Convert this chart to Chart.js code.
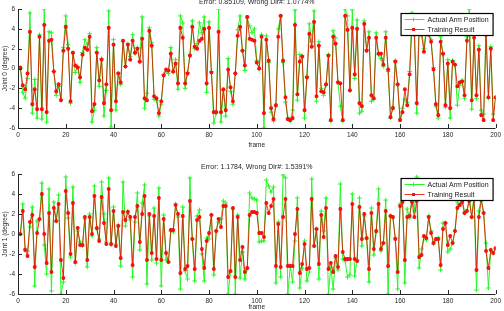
<!DOCTYPE html>
<html>
<head>
<meta charset="utf-8">
<script src="https://cdn.jsdelivr.net/npm/chart.js@4.4.1/dist/chart.umd.min.js"></script>
<style>
  html, body { margin: 0; padding: 0; background: #fff; }
  #wrap { position: relative; width: 504px; height: 311px; }
  #c0 { position: absolute; left: 0; top: 0; }
  #c1 { position: absolute; left: 0; top: 155px; }
</style>
</head>
<body>
<div id="wrap">
  <canvas id="c0" width="504" height="155"></canvas>
  <canvas id="c1" width="504" height="156"></canvas>
</div>
<script>
// values (frame 0..200)
const joint0Actual = [0.1,0.0,-2.4,-3.0,-1.0,5.6,-4.5,-1.1,-5.0,3.4,-5.1,6.0,-5.4,3.7,3.6,-0.3,-2.7,-1.8,-3.1,2.1,
  5.3,2.4,-3.5,1.5,-0.4,0.2,-1.4,1.6,2.9,2.4,3.5,-5.4,-4.2,2.1,-1.8,1.0,-4.8,-2.2,5.8,-5.9,
  2.9,-4.2,-0.5,-1.6,2.7,0.2,2.5,1.2,3.4,1.5,2.1,0.7,5.2,-4.0,-2.5,4.1,2.6,-3.1,-3.2,-4.8,
  -3.6,-0.6,-0.3,-0.5,2.1,-0.4,0.9,-2.1,5.3,4.6,-2.0,-0.4,1.4,4.8,2.0,2.5,4.6,3.6,5.2,-2.4,
  4.7,-0.3,-5.5,-4.5,6.0,-5.4,-2.2,-4.8,1.0,-2.3,-3.6,-0.5,3.9,5.3,1.8,-0.2,5.1,4.3,3.6,4.0,
  0.8,-0.1,3.4,-6.0,3.3,0.6,-4.4,-5.3,-3.8,4.0,5.3,0.6,-3.4,-5.0,-5.3,-4.2,5.9,-3.2,1.4,1.3,
  -5.0,-0.8,4.5,2.7,5.8,-3.3,2.7,-2.0,-2.7,-1.7,1.4,-5.3,3.8,3.1,-1.4,-3.8,-5.3,6.0,5.3,-2.2,
  5.9,-1.0,4.9,-4.5,-4.3,4.8,1.9,3.7,-3.3,-3.1,3.6,1.4,1.0,0.2,3.7,-0.3,-5.0,-3.9,0.8,-1.6,
  -5.1,-4.0,-3.1,-3.4,-0.3,5.6,4.0,-4.5,5.1,3.9,2.0,4.1,3.7,2.9,0.1,-3.8,-5.0,3.2,1.4,-3.9,
  0.9,-5.0,0.8,0.3,-3.7,-1.7,-1.2,-3.0,3.2,6.0,-4.1,3.5,-3.0,2.3,-4.2,-4.6,4.2,-3.0,2.2,-4.6,-3.0];
const joint0Training = [0.1,0.1,-1.7,-2.1,-0.5,3.7,-3.6,-2.1,-4.1,3.2,-4.1,4.4,-4.4,2.8,2.9,-0.3,-2.3,-1.6,-3.2,1.8,
  4.2,2.0,-3.3,1.6,0.3,0.1,-0.9,1.4,2.1,1.9,3.2,-4.3,-3.6,1.6,-1.2,0.9,-3.5,-1.6,4.1,-4.2,
  2.4,-3.3,-0.5,-1.4,2.8,0.2,2.4,0.9,2.8,1.6,2.0,0.7,3.0,-3.0,-3.2,3.8,2.3,-2.8,-3.0,-4.5,
  -3.3,-0.7,-0.1,-0.2,1.5,-0.3,0.5,-1.5,4.1,3.1,-1.5,-0.5,1.3,4.2,2.2,2.0,2.8,3.0,4.0,-1.5,
  4.1,-0.4,-4.4,-4.4,3.7,-4.4,-2.1,-4.2,-0.1,-1.9,-3.3,-0.5,3.3,4.2,1.8,0.3,5.2,3.0,2.9,2.8,
  0.6,0.0,3.2,-4.5,2.9,0.8,-4.0,-5.1,-3.7,3.2,5.3,0.8,-2.9,-5.1,-5.2,-5.0,4.4,-2.6,0.7,1.2,
  -4.2,-0.9,3.5,2.2,4.7,-2.8,2.3,-2.3,-2.4,-1.6,1.3,-5.2,3.2,2.5,-1.4,-1.5,-5.2,5.3,3.9,-2.2,
  4.1,-0.6,4.0,-3.5,-3.8,4.5,1.8,3.1,-2.7,-3.0,3.1,1.5,1.5,0.4,3.1,-0.1,-4.9,-4.0,0.7,-1.6,
  -5.2,-4.4,-2.1,-3.7,-0.6,4.4,3.4,-3.5,3.8,3.4,1.7,3.7,3.4,2.7,-0.1,-3.6,-4.7,2.7,1.5,-3.7,
  0.5,-4.0,0.7,0.4,-1.8,-1.4,-1.3,-2.7,2.8,4.1,-3.2,3.1,-2.7,1.9,-4.7,-5.2,3.4,-2.9,2.0,-5.2,-2.9];

const joint1Actual = [0.0,0.0,3.0,-1.5,-1.7,0.7,2.7,-5.2,1.3,1.4,5.1,-1.1,-4.0,4.5,-5.7,3.2,1.3,3.9,-6.0,-4.8,
  5.7,1.6,-2.3,4.7,-2.9,0.3,-0.8,-1.2,1.5,-3.3,2.0,-0.2,4.8,0.5,-0.5,5.2,2.0,-0.8,5.6,-1.1,
  2.7,-1.0,0.9,-3.2,5.2,0.8,2.3,1.4,-4.3,1.2,4.1,-1.6,3.1,4.9,-5.0,1.8,-2.6,2.6,-2.9,4.6,
  -5.2,1.9,-2.6,-2.8,0.3,0.2,3.0,1.7,-5.5,2.7,-3.7,-4.5,5.6,-0.5,-4.7,1.8,2.4,-2.0,-4.7,-0.4,
  -0.5,1.9,-4.1,0.3,1.2,1.5,3.3,3.1,-6.0,-3.8,2.5,-6.0,1.9,-4.4,-1.8,-4.5,-3.5,4.1,3.6,3.5,
  3.4,-0.8,-0.7,-0.7,5.4,4.8,4.2,4.7,-4.9,1.2,-4.3,5.9,5.6,-6.0,-3.2,-4.8,-0.7,3.6,-5.4,-3.4,
  -0.7,-4.7,-3.8,5.5,-1.2,0.5,-4.5,2.3,0.3,3.6,-6.0,-3.3,-5.5,-2.4,-3.6,5.0,-2.5,-2.7,-4.3,-4.1,
  4.0,-4.2,-2.6,3.6,-1.2,1.8,-0.5,-4.8,2.6,-2.1,0.2,4.5,-1.7,-0.9,3.4,-6.0,1.8,1.6,-0.4,-5.5,
  3.0,3.7,-4.9,2.5,1.6,3.9,2.3,5.7,-3.4,-1.5,-0.3,-0.6,1.8,0.3,-1.0,-0.6,-0.4,-3.6,1.1,1.1,
  -1.8,-1.5,-0.9,0.3,3.2,2.9,3.8,2.1,2.3,3.8,1.7,4.0,-5.6,2.3,3.6,2.1,-0.9,-5.4,-1.6,-1.9,-1.5];
const joint1Training = [0.0,0.0,2.3,-1.6,-2.2,1.2,1.9,-3.3,0.1,1.5,4.0,0.0,-2.9,2.1,-3.8,2.6,1.3,3.0,-2.6,-4.4,
  4.3,2.1,-2.0,3.1,-2.8,0.6,-1.1,-1.1,1.7,-2.6,1.7,0.0,3.8,0.6,-0.7,3.7,1.1,-1.0,4.5,-1.0,
  2.3,-1.2,0.8,-2.4,2.2,1.4,2.2,1.7,-3.1,1.7,2.8,-0.8,2.0,3.8,-2.6,2.0,-1.9,1.8,-2.5,3.6,
  -2.6,1.5,-1.9,-2.8,0.4,0.4,2.9,2.0,-3.9,1.8,-3.5,-3.2,3.3,-0.5,-3.5,1.4,1.7,-1.5,-3.4,-0.7,
  0.1,1.9,-3.5,0.3,1.5,0.7,2.8,2.8,-4.3,-3.7,2.6,-4.3,1.7,-2.6,-1.3,-3.8,-3.4,1.9,2.2,2.2,
  2.1,0.1,0.1,-0.3,3.1,2.1,2.8,3.5,-3.2,1.0,-3.3,1.7,3.5,-3.2,-3.2,-3.2,0.0,2.5,-3.9,-3.0,
  -1.0,-3.5,-3.4,3.5,-1.2,0.5,-3.0,1.9,-0.3,2.6,-3.5,-2.9,-3.8,-2.2,-3.3,2.5,-1.8,-2.5,-2.5,-2.5,
  3.0,-2.5,-2.7,2.7,-0.5,2.0,-0.4,-3.5,2.1,-1.5,0.3,3.0,-1.5,-0.9,2.3,-3.2,1.8,1.7,-0.5,-3.8,
  2.8,3.2,-2.6,1.7,1.8,3.2,1.7,3.3,-2.3,-2.1,-0.2,-0.4,1.7,0.1,-0.9,-0.5,-0.5,-3.1,0.5,1.1,
  -1.1,-0.2,-0.9,0.3,2.6,2.9,3.2,2.1,2.3,3.3,1.7,3.5,-3.6,1.7,3.4,2.1,-1.7,-3.4,-1.6,-1.9,-1.4];

const titles = ['Error: 0.85109, Wrong Dir#: 1.0774%', 'Error: 1.1784, Wrong Dir#: 1.5391%'];
const yTitles = ['Joint 0 (degree)', 'Joint 1 (degree)'];
const legendLabels = ['Actual Arm Position', 'Training Result'];
const xMin = 0, xMax = 200, xStep = 20;
const yMin = -6, yMax = 6, yStep = 2;

const GREEN = 'rgb(40,245,40)';
const RED_LINE = 'rgba(230,20,0,0.85)';
const RED = 'rgb(245,15,15)';
const AXIS = '#262626';
const FONT = '"Liberation Sans", Arial, sans-serif';

function toPoints(arr) {
    return arr.map((v, i) => ({x: i, y: v}));
}

// MATLAB style axes: left + bottom lines with inward ticks, title and legend box
const matlabPlugin = {
    id: 'matlabAxes',
    afterDatasetsDraw(chart, args, opts) {
        const ctx = chart.ctx;
        const a = chart.chartArea;
        const xs = chart.scales.x, ys = chart.scales.y;
        ctx.save();
        ctx.strokeStyle = AXIS;
        ctx.lineWidth = 1;
        ctx.beginPath();
        ctx.moveTo(a.left + 0.5, a.top);
        ctx.lineTo(a.left + 0.5, a.bottom + 0.5);
        ctx.lineTo(a.right, a.bottom + 0.5);
        xs.ticks.forEach(t => {
            const px = Math.round(xs.getPixelForValue(t.value)) + 0.5;
            ctx.moveTo(px, a.bottom);
            ctx.lineTo(px, a.bottom - 4);
        });
        ys.ticks.forEach(t => {
            const py = Math.round(ys.getPixelForValue(t.value)) + 0.5;
            ctx.moveTo(a.left, py);
            ctx.lineTo(a.left + 4, py);
        });
        ctx.stroke();

        // title
        ctx.fillStyle = AXIS;
        ctx.font = '7px ' + FONT;
        ctx.textAlign = 'center';
        ctx.textBaseline = 'middle';
        ctx.fillText(opts.title, (a.left + a.right) / 2, a.top - 6.5);

        // legend
        const lx = a.right - 95, ly = a.top + 4, lw = 92, lh = 22;
        ctx.fillStyle = '#fff';
        ctx.fillRect(lx, ly, lw, lh);
        ctx.strokeStyle = '#000';
        ctx.lineWidth = 1.2;
        ctx.strokeRect(lx + 0.5, ly + 0.5, lw, lh);
        ctx.lineWidth = 1;
        const rows = [[GREEN, GREEN, legendLabels[0], true], [RED_LINE, RED, legendLabels[1], false]];
        rows.forEach((r, i) => {
            const yy = ly + 6.5 + i * 10;
            const mx = lx + 13;
            ctx.strokeStyle = r[0];
            ctx.beginPath();
            ctx.moveTo(lx + 4, yy);
            ctx.lineTo(lx + 24, yy);
            ctx.stroke();
            ctx.strokeStyle = r[1];
            ctx.fillStyle = r[1];
            if (r[3]) {
                ctx.beginPath();
                ctx.moveTo(mx - 2, yy); ctx.lineTo(mx + 2, yy);
                ctx.moveTo(mx, yy - 2); ctx.lineTo(mx, yy + 2);
                ctx.stroke();
            } else {
                ctx.fillRect(mx - 1.5, yy - 1.5, 3, 3);
            }
            ctx.fillStyle = '#1a1a1a';
            ctx.textAlign = 'left';
            ctx.fillText(r[2], lx + 27, yy + 0.5);
        });
        ctx.restore();
    }
};

function makeChart(id, actual, training, idx, padTop, axisH, titlePad) {
    const ctx = document.getElementById(id).getContext('2d');
    return new Chart(ctx, {
        type: 'line',
        data: {
            datasets: [
                {
                    label: legendLabels[0],
                    data: toPoints(actual),
                    borderColor: GREEN,
                    backgroundColor: GREEN,
                    borderWidth: 1,
                    pointStyle: 'cross',
                    pointRadius: 2.3,
                    pointBorderWidth: 1,
                    pointBorderColor: GREEN,
                    tension: 0,
                    order: 2
                },
                {
                    label: legendLabels[1],
                    data: toPoints(training),
                    borderColor: RED_LINE,
                    backgroundColor: RED,
                    borderWidth: 1,
                    pointStyle: 'star',
                    pointRadius: 2,
                    pointBorderWidth: 1.2,
                    pointBorderColor: RED,
                    tension: 0,
                    order: 1
                }
            ]
        },
        options: {
            responsive: false,
            animation: false,
            layout: { padding: { top: padTop, right: 6, left: 0, bottom: 0 } },
            plugins: {
                legend: { display: false },
                tooltip: { enabled: false },
                matlabAxes: { title: titles[idx] }
            },
            scales: {
                x: {
                    type: 'linear',
                    min: xMin, max: xMax,
                    grid: { display: false, drawTicks: false },
                    border: { display: false },
                    ticks: { stepSize: xStep, padding: 3, color: AXIS, font: { size: 6.5, family: FONT }, maxRotation: 0 },
                    title: { display: true, text: 'frame', color: AXIS, font: { size: 6.5, family: FONT }, padding: { top: 0, bottom: titlePad } },
                    afterFit: s => { s.height = axisH; }
                },
                y: {
                    min: yMin, max: yMax,
                    grid: { display: false, drawTicks: false },
                    border: { display: false },
                    ticks: { stepSize: yStep, padding: 3, color: AXIS, font: { size: 6.5, family: FONT } },
                    title: { display: true, text: yTitles[idx], color: AXIS, font: { size: 6.5, family: FONT }, padding: { top: 1, bottom: 0 } },
                    afterFit: s => { s.width = 18; }
                }
            }
        },
        plugins: [matlabPlugin]
    });
}

makeChart('c0', joint0Actual, joint0Training, 0, 9, 27, 6);
makeChart('c1', joint1Actual, joint1Training, 1, 19, 17, 0);
</script>
</body>
</html>
